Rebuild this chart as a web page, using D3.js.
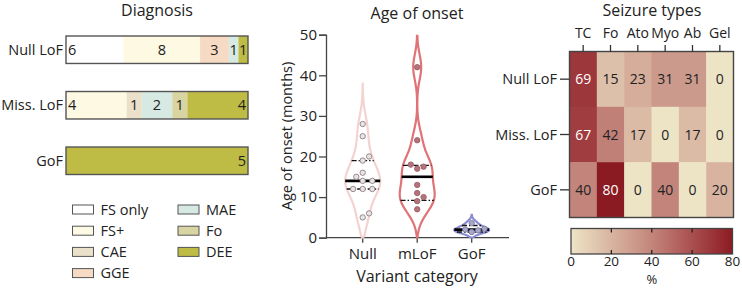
<!DOCTYPE html>
<html><head><meta charset="utf-8">
<script src="https://cdn.jsdelivr.net/npm/d3@7"></script>
<style>
html,body{margin:0;padding:0;background:#fff;}
svg{display:block;font-family:"Open Sans",sans-serif;}
</style></head>
<body><svg id="c" width="742" height="288"></svg>
<script>
// ---------- DATA ----------
const diagCategories = ["FS only","FS+","CAE","GGE","MAE","Fo","DEE"];
const diagColors = ["#ffffff","#fdf9e3","#ebe1ca","#f6dac3","#d6e9e3","#d9d5a2","#bfbc45"];
const diagGroups = ["Null LoF","Miss. LoF","GoF"];
const diagNull = [6,8,0,3,1,0,1];
const diagMiss = [0,4,1,0,2,1,4];
const diagGoF  = [0,0,0,0,0,0,5];

const variantCats = ["Null","mLoF","GoF"];
const onsetNull = [28,25,20,19,16,15,14,14,12,12,12,6,5];
const onsetMLoF = [42,24,18,17.5,17,13,11,10,9,7];
const onsetGoF  = [3.6,2.2,2,1.8,1.4];
const quartNull = [12,14,19];
const quartMLoF = [9.2,15,17.8];
const quartGoF  = [1.4,2,3];
const onsetTicks = [0,10,20,30,40,50];

const seizureTypes = ["TC","Fo","Ato","Myo","Ab","Gel"];
const seizureGroups = ["Null LoF","Miss. LoF","GoF"];
const seizNull = [69,15,23,31,31,0];
const seizMiss = [67,42,17,0,17,0];
const seizGoF  = [40,80,0,40,0,20];
const colorbarTicks = [0,20,40,60,80];

// ---------- SETUP ----------
const svg = d3.select("#c");
const txt = "#222";
const fs = 14.5, ft = 16;

// ---------- DIAGNOSIS ----------
svg.append("text").attr("x",157).attr("y",15.5).attr("text-anchor","middle")
  .attr("font-size",ft).attr("fill",txt).text("Diagnosis");

const diagRows = [diagNull, diagMiss, diagGoF];
const yDiag = d3.scaleBand().domain(diagGroups).range([36,174.5]).paddingInner(0.505).paddingOuter(0);
diagRows.forEach((vals,ri)=>{
  const g = diagGroups[ri];
  const total = d3.sum(vals);
  const xs = d3.scaleLinear().domain([0,total]).range([66,248]);
  const y0 = yDiag(g), h = yDiag.bandwidth();
  let cum = 0;
  const segs = [];
  vals.forEach((v,i)=>{ if(v>0){ segs.push({i,v,a:cum,b:cum+v}); } cum+=v; });
  segs.forEach((s,k)=>{
    svg.append("rect").attr("x",xs(s.a)).attr("y",y0).attr("width",xs(s.b)-xs(s.a)).attr("height",h)
      .attr("fill",diagColors[s.i]);
    const w = xs(s.b)-xs(s.a);
    let tx, anchor;
    if(segs.length===1){ tx = xs(s.b)-2; anchor="end"; }
    else if(k===0){ tx = xs(s.a)+2; anchor="start"; }
    else if(k===segs.length-1 && w>40){ tx = xs(s.b)-2; anchor="end"; }
    else { tx = (xs(s.a)+xs(s.b))/2; anchor="middle"; }
    svg.append("text").attr("x",tx).attr("y",y0+h/2).attr("dy","0.36em").attr("text-anchor",anchor)
      .attr("font-size",fs).attr("fill",txt).text(s.v);
  });
  svg.append("rect").attr("x",66).attr("y",y0).attr("width",182).attr("height",h)
    .attr("fill","none").attr("stroke","#555").attr("stroke-width",1.4);
  svg.append("text").attr("x",63).attr("y",y0+h/2).attr("dy","0.36em").attr("text-anchor","end")
    .attr("font-size",fs).attr("fill",txt).text(g);
});

// legend
diagCategories.forEach((c,i)=>{
  const col = i<4?0:1, row = i<4?i:i-4;
  const bx = col===0?72.5:178, ty = 209.5+row*21.2;
  svg.append("rect").attr("x",bx).attr("y",ty-4.5).attr("width",21).attr("height",9)
    .attr("fill",diagColors[i]).attr("stroke","#555").attr("stroke-width",1);
  svg.append("text").attr("x",bx+28).attr("y",ty).attr("dy","0.36em")
    .attr("font-size",fs).attr("fill",txt).text(c);
});

// ---------- VIOLIN ----------
svg.append("text").attr("x",417).attr("y",19).attr("text-anchor","middle")
  .attr("font-size",ft).attr("fill",txt).text("Age of onset");

const yV = d3.scaleLinear().domain([0,50]).range([237.7,34.7]);
const xV = d3.scalePoint().domain(variantCats).range([362.7,471.7]);
const axX0 = 326, axX1 = 509;

const yAxis = d3.axisLeft(yV).tickValues(onsetTicks).tickSize(7).tickPadding(2);
const ga = svg.append("g").attr("transform",`translate(${axX0},0)`).call(yAxis);
ga.select(".domain").attr("stroke","#444").attr("stroke-width",1.3);
ga.selectAll(".tick line").attr("stroke","#444").attr("stroke-width",1.3);
ga.selectAll(".tick text").attr("font-size",15).attr("fill",txt).attr("font-family","Open Sans");
svg.append("text").attr("transform",`translate(287,136) rotate(-90)`).attr("text-anchor","middle")
  .attr("dy","0.36em").attr("font-size",fs).attr("fill",txt).text("Age of onset (months)");

svg.append("line").attr("x1",axX0).attr("x2",axX1).attr("y1",yV(0)).attr("y2",yV(0))
  .attr("stroke","#444").attr("stroke-width",1.3);
variantCats.forEach(c=>{
  svg.append("line").attr("x1",xV(c)).attr("x2",xV(c)).attr("y1",yV(0)).attr("y2",yV(0)+5)
    .attr("stroke","#444").attr("stroke-width",1.3);
  svg.append("text").attr("x",xV(c)).attr("y",254).attr("dy","0.36em").attr("text-anchor","middle")
    .attr("font-size",15).attr("fill",txt).text(c);
});
svg.append("text").attr("x",417).attr("y",276).attr("dy","0.36em").attr("text-anchor","middle")
  .attr("font-size",16).attr("fill",txt).text("Variant category");

svg.append("clipPath").attr("id","vclip").append("rect")
  .attr("x",330).attr("y",yV(50)).attr("width",180).attr("height",yV(0)-yV(50)+1);

const groups = [
  {cat:"Null", data:onsetNull, q:quartNull, bw:3.4, stroke:"#f5d2d2", fill:"#e9e3e3", pstroke:"#8d7f83"},
  {cat:"mLoF", data:onsetMLoF, q:quartMLoF, bw:3.1, stroke:"#e07377", fill:"#b5747b", pstroke:"#9c5e66"},
  {cat:"GoF",  data:onsetGoF,  q:quartGoF,  bw:0.75, stroke:"#8c8cd2", fill:"#a8a8c8", pstroke:"#7a7aa8"}
];
const maxHalf = 17.5;
groups.forEach(G=>{
  const kde = v => d3.sum(G.data, d => Math.exp(-0.5*((v-d)/G.bw)**2));
  const lo = Math.max(0, d3.min(G.data)-3*G.bw), hi = d3.max(G.data)+3*G.bw;
  const n = 90;
  const grid = d3.range(n+1).map(i=>lo+(hi-lo)*i/n);
  let dens = grid.map(kde);
  dens[0]=0; dens[n]=0;
  const mx = d3.max(dens);
  const half = v => kde(v)/mx*maxHalf;
  const pts = grid.map((v,i)=>({v, w:dens[i]/mx*maxHalf}));
  const cx = xV(G.cat);
  const area = d3.area().y(d=>yV(d.v)).x0(d=>cx-d.w).x1(d=>cx+d.w).curve(d3.curveBasis);
  svg.append("path").attr("d",area(pts)).attr("fill","none").attr("stroke",G.stroke)
    .attr("stroke-width",2.2).attr("clip-path","url(#vclip)");
  [0,2].forEach(k=>{
    const w = half(G.q[k]);
    svg.append("line").attr("x1",cx-w).attr("x2",cx+w).attr("y1",yV(G.q[k])).attr("y2",yV(G.q[k]))
      .attr("stroke","#111").attr("stroke-width",1.3).attr("stroke-dasharray","5,2,1.5,2");
  });
  const wm = half(G.q[1]);
  svg.append("line").attr("x1",cx-wm).attr("x2",cx+wm).attr("y1",yV(G.q[1])).attr("y2",yV(G.q[1]))
    .attr("stroke","#000").attr("stroke-width",2.6);
  const r = 2.7, placed = [];
  const sorted = G.data.slice().sort((a,b)=>a-b);
  sorted.forEach(v=>{
    const py = yV(v);
    let off = 0;
    for(let k=0;k<20;k++){
      const cand = k===0?0:(k%2? 1:-1)*Math.ceil(k/2)*3.2;
      const ok = placed.every(p=>Math.hypot(p.x-(cx+cand),p.y-py) >= 2*r+1);
      if(ok){off=cand;break;}
    }
    placed.push({x:cx+off,y:py});
  });
  placed.forEach(p=>{
    svg.append("circle").attr("cx",p.x).attr("cy",p.y).attr("r",r)
      .attr("fill",G.fill).attr("stroke",G.pstroke).attr("stroke-width",0.9);
  });
});

// ---------- HEATMAP ----------
svg.append("text").attr("x",652).attr("y",15.5).attr("text-anchor","middle")
  .attr("font-size",ft).attr("fill",txt).text("Seizure types");

const colorHeat = d3.scaleLinear().domain([0,20,40,60,80])
  .range(["#ede4c6","#d8b4a0","#c3857b","#aa4f50","#8b1b23"]).interpolate(d3.interpolateRgb);
const xH = d3.scaleBand().domain(seizureTypes).range([569.5,733.5]);
const yH = d3.scaleBand().domain(seizureGroups).range([51.5,217.5]);
const heatRows = [seizNull, seizMiss, seizGoF];
heatRows.forEach((vals,ri)=>{
  const g = seizureGroups[ri];
  vals.forEach((v,ci)=>{
    const t = seizureTypes[ci];
    svg.append("rect").attr("x",xH(t)).attr("y",yH(g)).attr("width",xH.bandwidth()+0.5).attr("height",yH.bandwidth()+0.5)
      .attr("fill",colorHeat(v));
    svg.append("text").attr("x",xH(t)+xH.bandwidth()/2).attr("y",yH(g)+yH.bandwidth()/2).attr("dy","0.36em")
      .attr("text-anchor","middle").attr("font-size",14).attr("fill",v>=60?"#fff":txt).text(v);
  });
  svg.append("line").attr("x1",560).attr("x2",569.5).attr("y1",yH(g)+yH.bandwidth()/2).attr("y2",yH(g)+yH.bandwidth()/2)
    .attr("stroke","#333").attr("stroke-width",1.3);
  svg.append("text").attr("x",557).attr("y",yH(g)+yH.bandwidth()/2).attr("dy","0.36em").attr("text-anchor","end")
    .attr("font-size",fs).attr("fill",txt).text(g);
});
svg.append("rect").attr("x",569.5).attr("y",51.5).attr("width",164).attr("height",166)
  .attr("fill","none").attr("stroke","#444").attr("stroke-width",1.4);
seizureTypes.forEach(t=>{
  const cx = xH(t)+xH.bandwidth()/2;
  svg.append("line").attr("x1",cx).attr("x2",cx).attr("y1",45).attr("y2",51.5).attr("stroke","#333").attr("stroke-width",1.3);
  svg.append("text").attr("x",cx).attr("y",33).attr("dy","0.36em").attr("text-anchor","middle")
    .attr("font-size",14).attr("fill",txt).text(t);
});

// colorbar
const xC = d3.scaleLinear().domain([0,80]).range([571,732.5]);
const grad = svg.append("defs").append("linearGradient").attr("id","cbg");
d3.range(0,81,5).forEach(v=>{
  grad.append("stop").attr("offset",(v/80*100)+"%").attr("stop-color",colorHeat(v));
});
const cbY0 = 228.5, cbY1 = 254;
svg.append("rect").attr("x",xC(0)).attr("y",cbY0).attr("width",xC(80)-xC(0)).attr("height",cbY1-cbY0)
  .attr("fill","url(#cbg)").attr("stroke","#444").attr("stroke-width",1.3);
colorbarTicks.forEach(v=>{
  if(v>0 && v<80){
    svg.append("line").attr("x1",xC(v)).attr("x2",xC(v)).attr("y1",cbY0).attr("y2",cbY0+4).attr("stroke","#222").attr("stroke-width",1.3);
    svg.append("line").attr("x1",xC(v)).attr("x2",xC(v)).attr("y1",cbY1-4).attr("y2",cbY1).attr("stroke","#222").attr("stroke-width",1.3);
  }
  svg.append("text").attr("x",xC(v)).attr("y",261.5).attr("dy","0.36em").attr("text-anchor","middle")
    .attr("font-size",13.5).attr("fill",txt).text(v);
});
svg.append("text").attr("x",xC(40)).attr("y",279.5).attr("dy","0.36em").attr("text-anchor","middle")
  .attr("font-size",13).attr("fill",txt).text("%");
</script></body></html>
